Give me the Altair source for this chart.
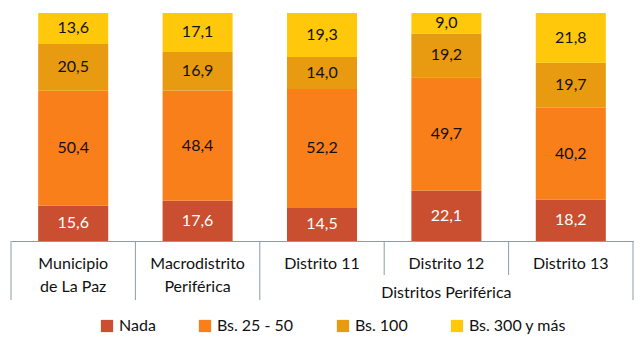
import altair as alt
import pandas as pd

categories = ["Municipio\nde La Paz", "Macrodistrito\nPeriférica", "Distrito 11", "Distrito 12", "Distrito 13"]
series = ["Nada", "Bs. 25 - 50", "Bs. 100", "Bs. 300 y más"]
nada = [15.6, 17.6, 14.5, 22.1, 18.2]
bs25_50 = [50.4, 48.4, 52.2, 49.7, 40.2]
bs100 = [20.5, 16.9, 14.0, 19.2, 19.7]
bs300 = [13.6, 17.1, 19.3, 9.0, 21.8]
colors = ["#C94F30", "#F97F1B", "#E89A10", "#FFC80A"]
group_label = "Distritos Periférica"
group_members = ["Distrito 11", "Distrito 12", "Distrito 13"]

FONT = "Lato"
LINE = "#8E9BA6"
TEXT = "#111111"

rows = []
for si, (s, vals) in enumerate(zip(series, [nada, bs25_50, bs100, bs300])):
    for c, v in zip(categories, vals):
        rows.append({"cat": c, "serie": s, "value": v, "order": si,
                     "label": f"{v:.1f}".replace(".", ",")})
df = pd.DataFrame(rows)

xscale = alt.Scale(domain=categories, paddingInner=0, paddingOuter=0)
xaxis = alt.Axis(title=None, labels=False, ticks=False, domain=True,
                 domainColor=LINE, domainWidth=1, grid=False)
yscale = alt.Scale(domain=[0, 1])

base = alt.Chart(df).transform_stack(
    stack="value", groupby=["cat"], as_=["y0", "y1"], offset="normalize",
    sort=[alt.SortField("order", order="ascending")]
).transform_calculate(mid="(datum.y0 + datum.y1) / 2")

bars = base.mark_bar(width=alt.RelativeBandSize(0.563)).encode(
    x=alt.X("cat:N", scale=xscale, axis=xaxis),
    y=alt.Y("y0:Q", scale=yscale, axis=None),
    y2="y1:Q",
    color=alt.Color("serie:N", scale=alt.Scale(domain=series, range=colors),
                    legend=alt.Legend(title=None, orient="none", legendX=88, legendY=305,
                                      direction="horizontal", columns=4,
                                      symbolType="square", symbolSize=150,
                                      symbolStrokeWidth=0, labelFont=FONT,
                                      labelFontSize=16, labelColor=TEXT,
                                      columnPadding=41, labelOffset=4)),
)

labels = base.mark_text(font=FONT, fontSize=16, baseline="middle", align="center").encode(
    x=alt.X("cat:N", scale=xscale, axis=xaxis),
    y=alt.Y("mid:Q", scale=yscale, axis=None),
    text="label:N",
    color=alt.condition(alt.datum.serie == "Nada", alt.value("white"), alt.value(TEXT)),
)

cat_df = pd.DataFrame({"cat": categories})
cat_text = alt.Chart(cat_df).mark_text(
    font=FONT, fontSize=16, baseline="alphabetic", align="center",
    lineBreak="\n", lineHeight=23, color=TEXT
).encode(
    x=alt.X("cat:N", scale=xscale, axis=xaxis),
    y=alt.value(256),
    text="cat:N",
)

group_df = pd.DataFrame({"cat": [group_members[1]], "text": [group_label]})
group_text = alt.Chart(group_df).mark_text(
    font=FONT, fontSize=16, baseline="alphabetic", align="center", color=TEXT
).encode(
    x=alt.X("cat:N", scale=xscale, axis=xaxis),
    y=alt.value(285),
    text="text:N",
)

long_df = pd.DataFrame({"cat": [c for c in categories if c not in group_members[1:]]})
long_rules = alt.Chart(long_df).mark_rule(color=LINE, strokeWidth=1).encode(
    x=alt.X("cat:N", scale=xscale, axis=xaxis, bandPosition=0),
    y=alt.value(228), y2=alt.value(287),
)
end_df = pd.DataFrame({"cat": [categories[-1]]})
end_rule = alt.Chart(end_df).mark_rule(color=LINE, strokeWidth=1).encode(
    x=alt.X("cat:N", scale=xscale, axis=xaxis, bandPosition=1),
    y=alt.value(228), y2=alt.value(287),
)
short_df = pd.DataFrame({"cat": group_members[1:]})
short_rules = alt.Chart(short_df).mark_rule(color=LINE, strokeWidth=1).encode(
    x=alt.X("cat:N", scale=xscale, axis=xaxis, bandPosition=0),
    y=alt.value(228), y2=alt.value(262),
)

chart = alt.layer(bars, labels, long_rules, end_rule, short_rules, cat_text, group_text).properties(
    width=622, height=228,
    autosize=alt.AutoSizeParams(type="none"),
    padding={"left": 11, "top": 13, "right": 8, "bottom": 110},
    background="white",
).configure_view(stroke=None)

chart.save("out.html", embed_options={"renderer": "svg", "actions": False})
